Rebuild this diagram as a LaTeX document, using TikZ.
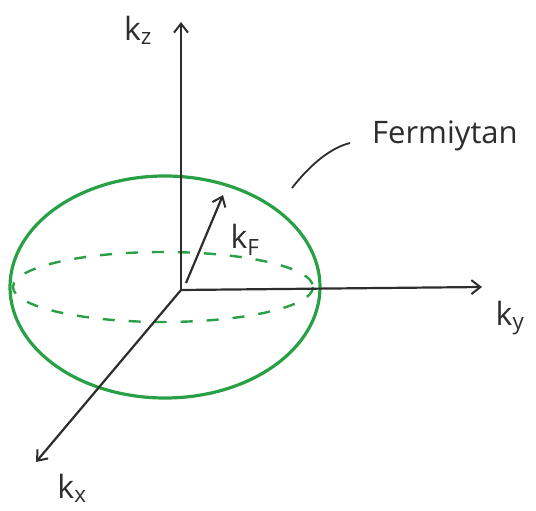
\documentclass[tikz,border=0pt]{standalone}
\usepackage{fontspec}
\setmainfont{Open Sans}
\usetikzlibrary{arrows.meta}
\definecolor{fsgreen}{RGB}{40,160,70}
\definecolor{axisgray}{RGB}{45,45,45}
\begin{document}
\begin{tikzpicture}[x=1pt,y=-1pt,
  axis/.style={draw=axisgray,line width=2.2pt,-{Straight Barb[length=9pt,width=14pt,line width=2pt]}},
  sphere/.style={draw=fsgreen,line width=3.2pt},
  equator/.style={draw=fsgreen,line width=2.4pt,dash pattern=on 12pt off 14pt},
  lbl/.style={font=\fontsize{32}{34}\selectfont,text=axisgray,inner sep=0pt}]
\useasboundingbox (0,0) rectangle (536,511);
\coordinate (O) at (181,290);
\coordinate (C) at (165,287);
% sphere
\draw[sphere] (C) ellipse [x radius=155, y radius=111];
\draw[equator] (163,287) ellipse [x radius=150, y radius=35];
% axes
\coordinate (zend) at (181,22);
\coordinate (yend) at (482,287);
\coordinate (xend) at (36,462);
\draw[axis] (O) -- (zend);
\draw[axis] (O) -- (yend);
\draw[axis] (O) -- (xend);
\coordinate (kfs) at (186,283);
\coordinate (kfe) at (223,195);
\draw[axis] (kfs) -- (kfe);
% labels
\node[lbl] (kz) at (138,30) {k\textsubscript{z}};
\node[lbl] (ky) at (510,318) {k\textsubscript{y}};
\node[lbl] (kx) at (72,488) {k\textsubscript{x}};
\node[lbl] (kf) at (245,240) {k\textsubscript{F}};
\node[anchor=base west,inner sep=0pt,font=\fontsize{31}{34}\selectfont,text=axisgray] (fs) at (372,143) {Fermiytan};
\coordinate (p1) at (292,188);
\coordinate (p2) at (350,143);
\draw[axisgray,line width=1.8pt] (p1) .. controls (310,165) and (330,148) .. (p2);
\end{tikzpicture}
\end{document}
